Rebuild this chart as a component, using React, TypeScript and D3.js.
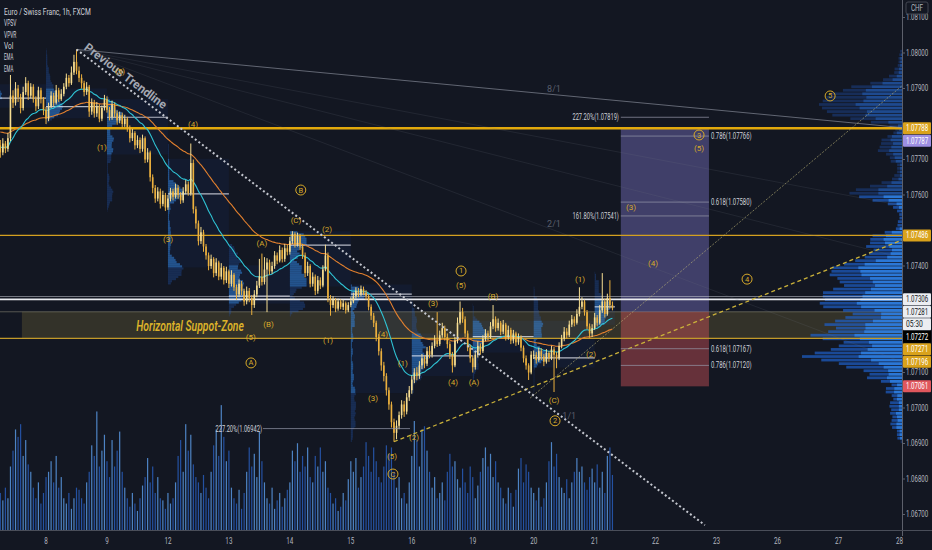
import React from "react";
import * as d3 from "d3";

// ---- layout of the chart canvas ----
const W = 932;
const H = 550;
const AXIS_X = 902; // left edge of the price scale
const AXIS_Y = 530; // top edge of the time scale

// ---- EUR/CHF 1h candles (points of 0.00001 above 1.07000) ----
const BASE = 1.07;
const toPrice = (p: number) => BASE + p / 100000;

const FIRST_OPEN = 740;
const closes = [
  720, 745, 730, 760, 880,
  860, 900, 875, 845, 890, 915, 880, 905, 870, 850, 895, 870,
  840, 815, 850, 880, 860, 895, 870, 885,
  905, 930, 915, 945, 975, 950, 930, 915, 890, 905, 835,
  860, 830, 850, 815, 845, 870, 840, 820, 855, 830,
  810, 825, 800, 815, 790, 760, 775, 740, 755, 730, 760, 700, 720, 650,
  620, 590, 610, 575, 600, 565, 590,
  610, 595, 620, 600, 585, 610, 630, 605, 690,
  560, 520, 470, 495, 455,
  430, 400, 420, 380, 410, 370, 395, 360, 385, 350,
  375, 340, 320, 350, 330, 300, 330, 310, 290, 320,
  345, 370, 355, 390, 410, 385, 400, 430, 415, 445, 420, 450, 440,
  470, 490, 460, 485, 455, 430, 380, 400, 350, 370, 330,
  360, 345, 390, 430, 310,
  290, 305, 280, 300, 285, 295, 275, 290, 300,
  315, 330, 320, 335, 325, 315, 285, 260, 240, 200, 160, 120,
  90, 50, 10, -40, -70, -50, -20, 10, -10, 30, 50, 80,
  100, 90, 120, 140, 125, 160, 150, 175, 190, 180,
  205, 225, 200, 180, 150, 120, 190, 240, 270, 250,
  210, 170, 140, 115, 150, 175, 160, 195, 210, 200,
  230, 250, 225, 240, 215, 235, 200, 220, 190, 210, 185, 200,
  170, 140, 120, 100, 150,
  150, 135, 160, 145, 130, 155, 140, 165, 150, 140,
  175, 195, 215, 205, 235, 250, 240,
  265, 285, 300, 270, 230, 210, 225,
  255, 240, 275, 300, 265, 310, 290, 281,
];

const highs = [
  755, 760, 752, 775, 938,
  895, 918, 910, 885, 905, 932, 922, 915, 912, 878, 905, 902,
  876, 848, 860, 892, 888, 910, 902, 898,
  915, 942, 938, 962, 995, 1010, 962, 940, 922, 918, 910,
  872, 868, 862, 856, 852, 882, 878, 848, 866, 860,
  838, 835, 832, 826, 820, 796, 786, 780, 768, 762, 770, 765, 732, 725,
  658, 628, 622, 618, 612, 606, 600,
  620, 618, 632, 628, 608, 622, 642, 638, 745,
  700, 568, 528, 510, 502,
  462, 438, 432, 425, 422, 415, 408, 400, 398, 390,
  388, 380, 348, 362, 358, 336, 342, 338, 318, 332,
  358, 420, 435, 425, 422, 418, 412, 442, 438, 458, 452, 462, 460,
  482, 498, 495, 494, 490, 462, 438, 412, 405, 382, 376,
  372, 368, 402, 460, 438,
  318, 315, 310, 308, 306, 305, 300, 298, 312,
  325, 340, 338, 345, 342, 332, 320, 292, 268, 246, 208, 168,
  130, 98, 58, 18, -30, -35, -10, 22, 20, 42, 62, 92,
  112, 115, 132, 152, 148, 172, 175, 185, 205, 270,
  218, 240, 232, 210, 188, 158, 200, 255, 300, 282,
  258, 218, 178, 148, 160, 188, 182, 205, 222, 218,
  242, 290, 258, 252, 245, 248, 240, 232, 226, 220, 215, 210,
  205, 176, 148, 126, 160,
  162, 158, 170, 168, 152, 166, 160, 175, 172, 158,
  185, 206, 228, 225, 246, 262, 258,
  278, 340, 312, 305, 276, 238, 236,
  268, 262, 290, 380, 308, 322, 360, 300,
];

const lows = [
  705, 712, 718, 722, 752,
  845, 852, 862, 830, 838, 882, 868, 872, 860, 836, 842, 858,
  825, 800, 808, 845, 850, 855, 862, 865,
  878, 898, 905, 910, 938, 940, 918, 900, 878, 882, 820,
  826, 818, 820, 805, 808, 838, 832, 810, 812, 818,
  798, 802, 790, 792, 778, 748, 752, 728, 732, 718, 722, 690, 692, 638,
  605, 578, 582, 562, 568, 555, 558,
  582, 585, 590, 590, 575, 578, 602, 598, 598,
  548, 505, 458, 462, 440,
  418, 388, 392, 368, 372, 360, 362, 348, 352, 338,
  342, 330, 305, 312, 318, 288, 292, 298, 262, 282,
  312, 338, 345, 348, 270, 375, 378, 392, 405, 410, 410, 412, 430,
  432, 462, 452, 455, 445, 420, 368, 372, 340, 342, 318,
  322, 335, 340, 385, 298,
  260, 282, 270, 274, 278, 276, 266, 270, 284,
  295, 308, 312, 315, 318, 305, 275, 248, 228, 188, 148, 105,
  75, 35, -5, -55, -95, -88, -60, -30, -25, -18, 20, 40,
  70, 78, 82, 110, 112, 118, 140, 142, 168, 172,
  175, 198, 190, 168, 138, 100, 115, 182, 235, 240,
  200, 160, 128, 100, 108, 142, 150, 155, 188, 190,
  195, 222, 215, 218, 205, 208, 190, 192, 180, 182, 175, 178,
  160, 128, 108, 79, 95,
  138, 125, 130, 135, 118, 125, 130, 135, 45, 112,
  135, 168, 188, 195, 200, 228, 230,
  235, 258, 278, 260, 222, 198, 200,
  220, 230, 235, 268, 255, 260, 280, 275,
];

// hourly volume (hundreds of ticks)
const volumes = [
  35, 28, 40, 30, 60,
  75, 95, 88, 100, 70, 85, 62, 55,
  40, 30, 45, 25, 35, 50,
  55, 65, 45, 70, 40, 50,
  30, 25, 35, 20, 30, 40,
  38, 30, 25, 45, 55,
  80, 70, 112, 60, 75, 90,
  65, 50, 85, 60, 75, 93, 55, 40,
  30, 22, 35, 25, 18, 30, 42, 50,
  68, 45, 60, 35, 50, 30,
  28, 20, 35, 25, 30, 45,
  70, 85, 55, 100, 75, 90, 62, 50,
  45, 35, 52, 40, 30, 55,
  80, 95, 70, 118, 88, 65, 75,
  40, 30, 25, 38, 20, 35,
  55, 78, 60, 72, 50, 93, 65, 45,
  30, 25, 40, 20, 28, 35, 22, 30, 38, 45,
  75, 65, 82, 55, 70, 60, 78, 50,
  45, 70, 60, 78, 55, 65, 40, 35,
  25, 30, 18, 22, 35, 28,
  48, 65, 55, 68, 40, 50,
  60, 83, 70, 55, 78, 65, 50, 45,
  60, 80, 72, 78, 55,
  40, 50, 30, 35, 25, 45,
  70, 103, 85, 60, 95, 98, 75, 55,
  40, 50, 30, 35, 45, 28,
  55, 72, 60, 65, 48, 40,
  58, 45, 35, 60, 50, 30, 42, 55,
  68, 78, 60, 72, 50, 65, 45, 40,
  30, 25, 40, 35, 22, 38,
  58, 68, 45, 62, 55, 40,
  35, 28, 40, 22, 30, 45,
  65, 83, 60, 72, 50,
  40, 35, 48, 30, 45, 55,
  68, 55, 60, 45, 38, 50,
  58, 45, 62, 40, 55, 35,
  70, 78, 52,
];

// EMA settings and their values carried in from before the first bar
const EMA_FAST = 20;
const EMA_SLOW = 50;
const EMA_FAST_SEED = 735;
const EMA_SLOW_SEED = 780;

// ---- time scale ----
const dayLabels = ["8", "9", "12", "13", "14", "15", "16", "19", "20", "21", "22", "23", "26", "27", "28"];
const FIRST_DAY_BAR = 18;
const BARS_PER_DAY = 24;
const LAST_BAR_SLOT = 354;

// ---- price scale ----
const PRICE_MIN = 1.067;
const PRICE_MAX = 1.081;

// ---- price-scale tags ----
const priceTags = [
  { price: 1.07788, bg: "#d9a21b", fg: "#ffffff" },
  { price: 1.07787, bg: "#9d8fe3", fg: "#ffffff" },
  { price: 1.07486, bg: "#d9a21b", fg: "#ffffff" },
  { price: 1.07306, bg: "#eceef2", fg: "#131722" },
  { price: 1.07281, bg: "#eceef2", fg: "#131722", countdown: "05:30" },
  { price: 1.07272, bg: "#000000", fg: "#ffffff" },
  { price: 1.07271, bg: "#d9a21b", fg: "#ffffff" },
  { price: 1.07196, bg: "#d9a21b", fg: "#ffffff" },
  { price: 1.07061, bg: "#e0575d", fg: "#ffffff" },
];

// ---- horizontal levels ----
const resistanceMajor = 1.07788;
const resistanceMinor = 1.07486;
const pivotLevels = [1.07306, 1.07314];
const zoneTop = 1.07271;
const zoneBottom = 1.07196;
const ZONE_START_BAR = 8.5;

// ---- long position tool ----
const position = { from: 244.3, to: 279, target: 1.07787, entry: 1.07271, stop: 1.07061 };

// ---- fibonacci levels ----
const fibLevels = [
  { text: "227.20%(1.07819)", price: 1.07819, side: "left" },
  { text: "0.786(1.07766)", price: 1.07766, side: "right" },
  { text: "0.618(1.07580)", price: 1.0758, side: "right" },
  { text: "161.80%(1.07541)", price: 1.07541, side: "left" },
  { text: "0.618(1.07167)", price: 1.07167, side: "right" },
  { text: "0.786(1.07120)", price: 1.0712, side: "right" },
];
const lowExtension = { text: "227.20%(1.06942)", price: 1.06942, from: 103.4, to: 161.3 };

// ---- trendlines ----
const trendStart = { bar: 30, price: 1.0801 };
const trendEnd = { bar: 277.4, price: 1.0667 };
const gannFan = [
  { label: "8/1", k: 8, shown: true, labelBar: 218 },
  { label: "4/1", k: 4, shown: false, labelBar: 218 },
  { label: "3/1", k: 3, shown: false, labelBar: 218 },
  { label: "2/1", k: 2, shown: true, labelBar: 218 },
];
const gannOneToOne = { label: "1/1", k: 1, shown: true, labelBar: 224 };
const supportLine = { a: { bar: 155, price: 1.06905 }, b: { bar: 355, price: 1.07473 } };
const channelLine = { a: { bar: 208.6, price: 1.07028 }, b: { bar: 355.4, price: 1.0791 } };

// ---- Elliott wave labels (bar, points) ----
const waveLabels = [
  { t: "(5)", bar: 47.1, p: 947 },
  { t: "(4)", bar: 75.9, p: 800 },
  { t: "(1)", bar: 40.0, p: 735 },
  { t: "(3)", bar: 66.0, p: 476 },
  { t: "B", bar: 118.3, p: 614, circle: true },
  { t: "(C)", bar: 116.4, p: 527 },
  { t: "(2)", bar: 128.6, p: 504 },
  { t: "(A)", bar: 103.0, p: 462 },
  { t: "(B)", bar: 105.6, p: 234 },
  { t: "(5)", bar: 98.6, p: 200 },
  { t: "A", bar: 98.7, p: 127, circle: true },
  { t: "(1)", bar: 129.0, p: 189 },
  { t: "(4)", bar: 150.7, p: 208 },
  { t: "(1)", bar: 158.5, p: 124 },
  { t: "(3)", bar: 146.7, p: 28 },
  { t: "(5)", bar: 154.2, p: -138 },
  { t: "C", bar: 154.6, p: -186, circle: true },
  { t: "(2)", bar: 162.9, p: -82 },
  { t: "1", bar: 181.4, p: 386, circle: true },
  { t: "(5)", bar: 181.4, p: 344 },
  { t: "(3)", bar: 170.4, p: 293 },
  { t: "(4)", bar: 178.2, p: 73 },
  { t: "(A)", bar: 186.5, p: 73 },
  { t: "(B)", bar: 194.0, p: 313 },
  { t: "(C)", bar: 218.0, p: 20 },
  { t: "2", bar: 218.4, p: -36, circle: true },
  { t: "(1)", bar: 228.2, p: 363 },
  { t: "(2)", bar: 232.6, p: 152 },
  { t: "3", bar: 275.1, p: 769, circle: true },
  { t: "(5)", bar: 275.1, p: 730 },
  { t: "(3)", bar: 248.3, p: 566 },
  { t: "(4)", bar: 257.0, p: 406 },
  { t: "4", bar: 294.0, p: 363, circle: true },
  { t: "5", bar: 326.7, p: 879, circle: true },
];

const legendLines = ["Euro / Swiss Franc, 1h, FXCM", "VPSV", "VPVR", "Vol", "EMA", "EMA"];

const FONT = "Roboto, 'Noto Sans', 'DejaVu Sans', sans-serif";
const GOLD = "#d8aa2a";
const AXIS_TEXT = "#b2b5be";
const BG = "#131722";
const SCALE_SQUEEZE = 0.68; // the scale fonts are set condensed

type Row = { lo: number; hi: number; up: number; down: number; total: number; inVA: boolean };

function openPts(i: number) {
  return i === 0 ? FIRST_OPEN : closes[i - 1];
}
function highPts(i: number) {
  return Math.max(highs[i], openPts(i), closes[i]);
}
function lowPts(i: number) {
  return Math.min(lows[i], openPts(i), closes[i]);
}

// volume-at-price histogram over a bar range, with point of control and 70% value area
function volumeProfile(from: number, to: number, step: number) {
  const idx = d3.range(Math.max(0, from), Math.min(closes.length, to));
  const lo = Math.floor((d3.min(idx, lowPts) as number) / step) * step;
  const hi = Math.ceil((d3.max(idx, highPts) as number) / step) * step;
  const n = Math.max(1, Math.round((hi - lo) / step));
  const rows: Row[] = d3.range(n).map((k) => ({
    lo: lo + k * step,
    hi: lo + (k + 1) * step,
    up: 0,
    down: 0,
    total: 0,
    inVA: false,
  }));
  for (const i of idx) {
    const l = lowPts(i);
    const h = highPts(i);
    const span = Math.max(h - l, 1);
    for (const r of rows) {
      const ov = Math.min(h, r.hi) - Math.max(l, r.lo);
      if (ov > 0) {
        const share = (volumes[i] * ov) / span;
        if (closes[i] >= openPts(i)) r.up += share;
        else r.down += share;
        r.total += share;
      }
    }
  }
  const total = d3.sum(rows, (r) => r.total);
  const poc = d3.maxIndex(rows, (r) => r.total);
  let a = poc;
  let b = poc;
  let acc = rows[poc].total;
  while (acc < total * 0.7 && (a > 0 || b < n - 1)) {
    const above = b < n - 1 ? rows[b + 1].total : -1;
    const below = a > 0 ? rows[a - 1].total : -1;
    if (above >= below) {
      b++;
      acc += above;
    } else {
      a--;
      acc += below;
    }
  }
  rows.forEach((r, k) => (r.inVA = k >= a && k <= b));
  return { rows, poc, vah: rows[b].hi, val: rows[a].lo, max: rows[poc].total };
}

// text fitted to a given width (used for chart annotations)
function NarrowText(props: {
  x: number;
  y: number;
  text: string;
  size?: number;
  fill?: string;
  anchor?: "start" | "middle" | "end";
  per?: number;
}) {
  const { x, y, text, size = 9, fill = AXIS_TEXT, anchor = "start", per = 3.1 } = props;
  return (
    <text
      x={x}
      y={y}
      fontSize={size}
      fill={fill}
      textAnchor={anchor}
      dominantBaseline="central"
      textLength={text.length * per}
      lengthAdjust="spacingAndGlyphs"
    >
      {text}
    </text>
  );
}

// horizontally condensed text for the scales and captions
function ScaleText(props: {
  x: number;
  y: number;
  text: string;
  size?: number;
  fill?: string;
  anchor?: "start" | "middle" | "end";
  squeeze?: number;
  italic?: boolean;
  weight?: number;
}) {
  const { x, y, text, size = 9, fill = AXIS_TEXT, anchor = "start", squeeze = SCALE_SQUEEZE, italic, weight } = props;
  return (
    <text
      transform={`translate(${x},${y}) scale(${squeeze},1)`}
      fontSize={size}
      fill={fill}
      textAnchor={anchor}
      dominantBaseline="central"
      fontStyle={italic ? "italic" : undefined}
      fontWeight={weight}
    >
      {text}
    </text>
  );
}

export default function App() {
  const x = d3.scaleLinear().domain([0, LAST_BAR_SLOT]).range([0.3, 0.3 + 2.54 * LAST_BAR_SLOT]);
  const y = d3.scaleLinear().domain([PRICE_MIN, PRICE_MAX]).range([514.5, 17.5]);
  const yVol = d3.scaleLinear().domain([0, 120]).range([AXIS_Y, AXIS_Y - 127]);
  const yp = (p: number) => y(toPrice(p));

  const bars = closes.map((c, i) => ({
    i,
    o: openPts(i),
    c,
    h: highPts(i),
    l: lowPts(i),
    v: volumes[i],
    up: c >= openPts(i),
  }));

  const ema = (period: number, seed: number) => {
    const a = 2 / (period + 1);
    let e = seed;
    return bars.map((b) => (e = a * b.c + (1 - a) * e));
  };
  const emaFast = ema(EMA_FAST, EMA_FAST_SEED);
  const emaSlow = ema(EMA_SLOW, EMA_SLOW_SEED);
  const emaLine = d3
    .line<number>()
    .x((_, i) => x(i))
    .y((v) => yp(v))
    .curve(d3.curveMonotoneX);

  // session profiles, one per trading day
  const sessionStarts = d3.range(FIRST_DAY_BAR - BARS_PER_DAY, closes.length, BARS_PER_DAY);
  const sessions = sessionStarts.map((s) => ({
    start: s,
    end: Math.min(s + BARS_PER_DAY, closes.length),
    prof: volumeProfile(s, s + BARS_PER_DAY, 6),
  }));

  // visible range profile
  const vpvr = volumeProfile(0, closes.length, 10);

  // gann fan from the swing high
  const slope = (trendEnd.price - trendStart.price) / (trendEnd.bar - trendStart.bar);
  const lineAt = (k: number, bar: number) => trendStart.price + (slope / k) * (bar - trendStart.bar);
  const trendAngle =
    (Math.atan2(y(trendEnd.price) - y(trendStart.price), x(trendEnd.bar) - x(trendStart.bar)) * 180) / Math.PI;

  // price scale tags, stacked so they never overlap
  const tagH = 12.5;
  const sortedTags = priceTags.map((t) => ({ ...t, y0: y(t.price) })).sort((a, b) => a.y0 - b.y0);
  const placed: { text: string; bg: string; fg: string; yy: number }[] = [];
  let lastY = -Infinity;
  for (const t of sortedTags) {
    const yy = Math.max(t.y0, lastY + tagH);
    placed.push({ text: t.price.toFixed(5), bg: t.bg, fg: t.fg, yy });
    lastY = yy;
    if (t.countdown) {
      lastY += tagH;
      placed.push({ text: t.countdown, bg: t.bg, fg: t.fg, yy: lastY });
    }
  }
  const ticks = y
    .ticks(15)
    .filter((v) => y(v) > 14 && y(v) < AXIS_Y - 6)
    .filter((v) => placed.every((p) => Math.abs(p.yy - y(v)) >= 10));

  const bw = 1.6;

  return (
    <svg
      width={W}
      height={H}
      viewBox={`0 0 ${W} ${H}`}
      style={{ position: "fixed", left: 0, top: 0, background: BG }}
      fontFamily={FONT}
    >
      <defs>
        <clipPath id="plot">
          <rect x={0} y={0} width={AXIS_X} height={AXIS_Y} />
        </clipPath>
      </defs>
      <rect x={0} y={0} width={W} height={H} fill={BG} />

      <g clipPath="url(#plot)">
        {/* volume pane */}
        {bars.map((b) => (
          <rect
            key={`v${b.i}`}
            x={x(b.i) - 0.6}
            y={yVol(b.v)}
            width={1.2}
            height={AXIS_Y - yVol(b.v)}
            fill={b.up ? "rgba(88,150,225,0.85)" : "rgba(40,92,185,0.85)"}
          />
        ))}

        {/* horizontal support zone */}
        <rect
          x={x(ZONE_START_BAR)}
          y={y(zoneTop)}
          width={AXIS_X - x(ZONE_START_BAR)}
          height={y(zoneBottom) - y(zoneTop)}
          fill="rgba(170,150,70,0.22)"
        />
        <line x1={0} x2={AXIS_X} y1={y(zoneTop)} y2={y(zoneTop)} stroke="rgba(170,165,140,0.45)" strokeWidth={1} />

        {/* long position */}
        <rect
          x={x(position.from)}
          y={y(position.target)}
          width={x(position.to) - x(position.from)}
          height={y(position.entry) - y(position.target)}
          fill="rgba(126,120,205,0.42)"
        />
        <rect
          x={x(position.from)}
          y={y(position.entry)}
          width={x(position.to) - x(position.from)}
          height={y(position.stop) - y(position.entry)}
          fill="rgba(205,82,88,0.45)"
        />

        {/* visible range volume profile */}
        {vpvr.rows.map((r, k) => {
          const w = (r.total / vpvr.max) * 100;
          const wu = (r.up / vpvr.max) * 100;
          const y0 = yp(r.hi) + 0.4;
          const h = Math.max(yp(r.lo) - yp(r.hi) - 0.8, 0.5);
          return (
            <g key={`vp${k}`}>
              <rect
                x={AXIS_X - w}
                y={y0}
                width={w}
                height={h}
                fill={r.inVA ? "rgba(30,96,200,0.7)" : "rgba(30,80,170,0.4)"}
              />
              <rect
                x={AXIS_X - wu}
                y={y0}
                width={wu}
                height={h}
                fill={r.inVA ? "rgba(50,135,235,0.75)" : "rgba(40,110,210,0.45)"}
              />
            </g>
          );
        })}

        {/* session volume profiles */}
        {sessions.map((s) => (
          <g key={`s${s.start}`}>
            <rect
              x={x(s.start)}
              y={yp(s.prof.vah)}
              width={x(s.end) - x(s.start)}
              height={yp(s.prof.val) - yp(s.prof.vah)}
              fill="rgba(41,98,255,0.06)"
            />
            {s.prof.rows.map((r, k) => {
              const w = (r.total / s.prof.max) * 17;
              return (
                <rect
                  key={k}
                  x={x(s.start)}
                  y={yp(r.hi)}
                  width={w}
                  height={Math.max(yp(r.lo) - yp(r.hi), 0.5)}
                  fill={r.inVA ? "rgba(52,140,235,0.5)" : "rgba(38,96,200,0.3)"}
                />
              );
            })}
            <line
              x1={x(s.start)}
              x2={x(s.end)}
              y1={yp((s.prof.rows[s.prof.poc].lo + s.prof.rows[s.prof.poc].hi) / 2)}
              y2={yp((s.prof.rows[s.prof.poc].lo + s.prof.rows[s.prof.poc].hi) / 2)}
              stroke="rgba(235,238,245,0.75)"
              strokeWidth={1.2}
            />
          </g>
        ))}

        {/* horizontal levels */}
        <line x1={0} x2={AXIS_X} y1={y(resistanceMajor)} y2={y(resistanceMajor)} stroke="#e2a90c" strokeWidth={2.6} />
        <line x1={0} x2={AXIS_X} y1={y(resistanceMinor)} y2={y(resistanceMinor)} stroke="#d3a020" strokeWidth={1.2} />
        <line x1={0} x2={AXIS_X} y1={y(zoneBottom)} y2={y(zoneBottom)} stroke="#c29a2a" strokeWidth={1.4} />
        <line x1={0} x2={AXIS_X} y1={y(pivotLevels[0])} y2={y(pivotLevels[0])} stroke="#e9ebf0" strokeWidth={1.8} />
        <line x1={0} x2={AXIS_X} y1={y(pivotLevels[1])} y2={y(pivotLevels[1])} stroke="rgba(200,203,212,0.55)" strokeWidth={1} />

        {/* gann fan */}
        {gannFan.map((g) => (
          <line
            key={g.label}
            x1={x(trendStart.bar)}
            y1={y(trendStart.price)}
            x2={x(LAST_BAR_SLOT + 2)}
            y2={y(lineAt(g.k, LAST_BAR_SLOT + 2))}
            stroke={g.k === 8 ? "rgba(150,155,168,0.6)" : "rgba(110,116,132,0.16)"}
            strokeWidth={1}
          />
        ))}
        {[...gannFan, gannOneToOne]
          .filter((g) => g.shown)
          .map((g) => (
            <text
              key={`gl${g.label}`}
              x={x(g.labelBar)}
              y={y(lineAt(g.k, g.labelBar)) - 3}
              fontSize={9}
              fill="rgba(120,125,140,0.7)"
              textAnchor="middle"
            >
              {g.label}
            </text>
          ))}

        {/* support and channel lines */}
        <line
          x1={x(channelLine.a.bar)}
          y1={y(channelLine.a.price)}
          x2={x(channelLine.b.bar)}
          y2={y(channelLine.b.price)}
          stroke="rgba(190,182,120,0.6)"
          strokeWidth={1}
          strokeDasharray="2 1.5"
        />
        <line
          x1={x(supportLine.a.bar)}
          y1={y(supportLine.a.price)}
          x2={x(supportLine.b.bar)}
          y2={y(supportLine.b.price)}
          stroke="#cbb23a"
          strokeWidth={1.3}
          strokeDasharray="4 3"
        />

        {/* EMAs */}
        <path d={emaLine(emaSlow) || ""} fill="none" stroke="#e07f2e" strokeWidth={1.1} />
        <path d={emaLine(emaFast) || ""} fill="none" stroke="#2fc3d4" strokeWidth={1.1} />

        {/* candles */}
        {bars.map((b) => {
          const col = b.up ? "#f7de92" : "#ebb03e";
          const top = yp(Math.max(b.o, b.c));
          const bot = yp(Math.min(b.o, b.c));
          return (
            <g key={`c${b.i}`}>
              <line x1={x(b.i)} x2={x(b.i)} y1={yp(b.h)} y2={yp(b.l)} stroke={col} strokeWidth={1} />
              <rect x={x(b.i) - bw / 2} y={top} width={bw} height={Math.max(bot - top, 1)} fill={col} />
            </g>
          );
        })}

        {/* previous trendline (gann 1/1) */}
        <line
          x1={x(trendStart.bar)}
          y1={y(trendStart.price)}
          x2={x(trendEnd.bar)}
          y2={y(trendEnd.price)}
          stroke="#c3c6ce"
          strokeWidth={2}
          strokeDasharray="2 2.5"
        />
        <text
          transform={`translate(${x(trendStart.bar) + 5},${y(trendStart.price) + 2}) rotate(${trendAngle})`}
          y={-3}
          fontSize={12}
          fontWeight={700}
          fill="#a4a8b2"
          textLength={100}
          lengthAdjust="spacingAndGlyphs"
        >
          Previous Trendline
        </text>

        {/* fibonacci levels */}
        {fibLevels.map((f) => (
          <g key={f.text}>
            <line
              x1={x(position.from)}
              x2={x(position.to)}
              y1={y(f.price)}
              y2={y(f.price)}
              stroke="rgba(150,152,170,0.7)"
              strokeWidth={1}
            />
            <NarrowText
              x={f.side === "left" ? x(position.from) - 2 : x(position.to) + 2}
              y={y(f.price)}
              text={f.text}
              size={8.5}
              per={2.9}
              fill="#cfd1d8"
              anchor={f.side === "left" ? "end" : "start"}
            />
          </g>
        ))}
        <line
          x1={x(lowExtension.from)}
          x2={x(lowExtension.to)}
          y1={y(lowExtension.price)}
          y2={y(lowExtension.price)}
          stroke="rgba(150,152,170,0.7)"
          strokeWidth={1}
        />
        <NarrowText
          x={x(lowExtension.from) - 1}
          y={y(lowExtension.price)}
          text={lowExtension.text}
          size={8.5}
          per={2.9}
          fill="#cfd1d8"
          anchor="end"
        />

        {/* wave labels */}
        {waveLabels.map((w, k) => (
          <g key={`w${k}`}>
            {w.circle && <circle cx={x(w.bar)} cy={yp(w.p)} r={5} fill="none" stroke={GOLD} strokeWidth={1} />}
            <text
              x={x(w.bar)}
              y={yp(w.p)}
              fontSize={w.circle ? 7.5 : 8}
              fill={GOLD}
              textAnchor="middle"
              dominantBaseline="central"
            >
              {w.t}
            </text>
          </g>
        ))}

        {/* zone caption */}
        <ScaleText
          x={x(74.7)}
          y={y((zoneTop + zoneBottom) / 2) + 1}
          text="Horizontal Suppot-Zone"
          size={14}
          fill="#dcb22a"
          anchor="middle"
          squeeze={0.74}
          italic
          weight={600}
        />
      </g>

      {/* legend */}
      {legendLines.map((t, k) => (
        <NarrowText key={`lg${k}`} x={4} y={12 + k * 11.3} text={t} size={9} fill="#d1d4dc" />
      ))}

      {/* scale borders */}
      <line x1={AXIS_X + 0.5} x2={AXIS_X + 0.5} y1={0} y2={AXIS_Y + 6} stroke="#5d606b" strokeWidth={1} />
      <line x1={0} x2={W} y1={AXIS_Y + 0.5} y2={AXIS_Y + 0.5} stroke="#4a4e59" strokeWidth={1} />

      {/* price scale */}
      {ticks.map((v) => (
        <g key={`t${v}`}>
          <line x1={AXIS_X} x2={AXIS_X + 3} y1={y(v)} y2={y(v)} stroke="#5d606b" />
          <ScaleText x={AXIS_X + 4} y={y(v)} text={v.toFixed(5)} size={9} />
        </g>
      ))}
      {placed.map((p, k) => (
        <g key={`pt${k}`}>
          <rect x={AXIS_X + 1} y={p.yy - 6} width={W - AXIS_X - 2} height={12} fill={p.bg} rx={1} />
          <ScaleText x={AXIS_X + 4} y={p.yy} text={p.text} size={9} fill={p.fg} squeeze={p.text.length > 5 ? 0.68 : 0.75} />
        </g>
      ))}
      <rect x={906} y={2} width={22} height={12} fill={BG} stroke="#434651" rx={2} />
      <ScaleText x={917} y={8.5} text="CHF" size={8.5} anchor="middle" squeeze={0.75} />

      {/* time scale */}
      {dayLabels.map((d, k) => (
        <ScaleText
          key={`d${d}`}
          x={x(FIRST_DAY_BAR + k * BARS_PER_DAY)}
          y={541}
          text={d}
          size={9}
          anchor="middle"
          squeeze={0.7}
        />
      ))}
    </svg>
  );
}
